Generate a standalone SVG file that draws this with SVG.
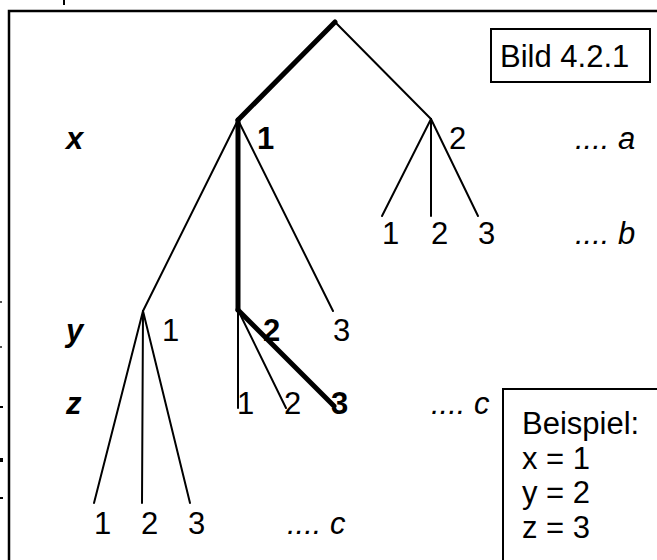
<svg xmlns="http://www.w3.org/2000/svg" width="657" height="560" viewBox="0 0 657 560">
<style>
text{font-family:"Liberation Sans",Arial,sans-serif;font-size:31px;fill:#000}
.b{font-weight:bold}
.bi{font-weight:bold;font-style:italic}
.i{font-style:italic}
.thin{stroke:#000;stroke-width:2;fill:none;stroke-linecap:round}
.thick{stroke:#000;stroke-width:5;fill:none;stroke-linecap:round}
.frame{stroke:#000;stroke-width:2.5;fill:none}
</style>
<rect width="657" height="560" fill="#fff"/>
<g id="frame">
<path class="frame" d="M9,560 V11 H657"/>
<rect x="63" y="0" width="2" height="5" fill="#000"/>
<rect x="0" y="301" width="2" height="2" fill="#555"/>
<rect x="0" y="346" width="2" height="2" fill="#555"/>
<rect x="0" y="406" width="3" height="2" fill="#000"/>
<rect x="0" y="458" width="3" height="4" fill="#000"/>
<rect x="0" y="497" width="3" height="2" fill="#000"/>
</g>
<g id="connectors">
<line class="thick" x1="335" y1="22" x2="238" y2="120"/>
<line class="thin" x1="335" y1="22" x2="431" y2="119"/>
<line class="thin" x1="238" y1="120" x2="143" y2="311"/>
<line class="thick" x1="238" y1="120" x2="238" y2="310"/>
<line class="thin" x1="238" y1="120" x2="333" y2="311"/>
<line class="thin" x1="431" y1="119" x2="382" y2="216"/>
<line class="thin" x1="431" y1="119" x2="431" y2="216"/>
<line class="thin" x1="431" y1="119" x2="478" y2="216"/>
<line class="thin" x1="143" y1="311" x2="94" y2="503"/>
<line class="thin" x1="143" y1="311" x2="142" y2="503"/>
<line class="thin" x1="143" y1="311" x2="190" y2="503"/>
<line class="thin" x1="238" y1="310" x2="238" y2="408"/>
<line class="thin" x1="238" y1="310" x2="286" y2="408"/>
<line class="thick" x1="238" y1="310" x2="334" y2="406"/>
</g>
<g id="labels-rows">
<text class="bi" x="66" y="149">x</text>
<text class="bi" x="66" y="341">y</text>
<text class="bi" x="66" y="414">z</text>
</g>
<g id="node-x1"><text class="b" x="257" y="149">1</text></g>
<g id="node-x2"><text x="449" y="149">2</text></g>
<g id="node-x2-children">
<text x="382" y="244">1</text>
<text x="431" y="244">2</text>
<text x="478" y="244">3</text>
</g>
<g id="node-y1"><text x="162" y="341">1</text></g>
<g id="node-y2"><text class="b" x="263" y="341">2</text></g>
<g id="node-y3"><text x="333" y="341">3</text></g>
<g id="node-y1-children">
<text x="94" y="534">1</text>
<text x="141" y="534">2</text>
<text x="188" y="534">3</text>
</g>
<g id="node-y2-children">
<text x="237" y="414">1</text>
<text x="284" y="414">2</text>
<text class="b" x="331" y="414">3</text>
</g>
<g id="dots">
<text class="i" x="575" y="149">.... a</text>
<text class="i" x="575" y="244">.... b</text>
<text class="i" x="431" y="414">.... c</text>
<text class="i" x="287" y="534">.... c</text>
</g>
<g id="bild-box">
<rect x="491" y="29" width="159" height="53" fill="#fff" stroke="#000" stroke-width="2"/>
<text x="500" y="67">Bild 4.2.1</text>
</g>
<g id="beispiel-box">
<rect x="503" y="389" width="170" height="190" fill="#fff" stroke="#000" stroke-width="2"/>
<text x="522" y="434">Beispiel:</text>
<text x="522" y="469">x = 1</text>
<text x="522" y="503">y = 2</text>
<text x="522" y="538">z = 3</text>
</g>
</svg>
